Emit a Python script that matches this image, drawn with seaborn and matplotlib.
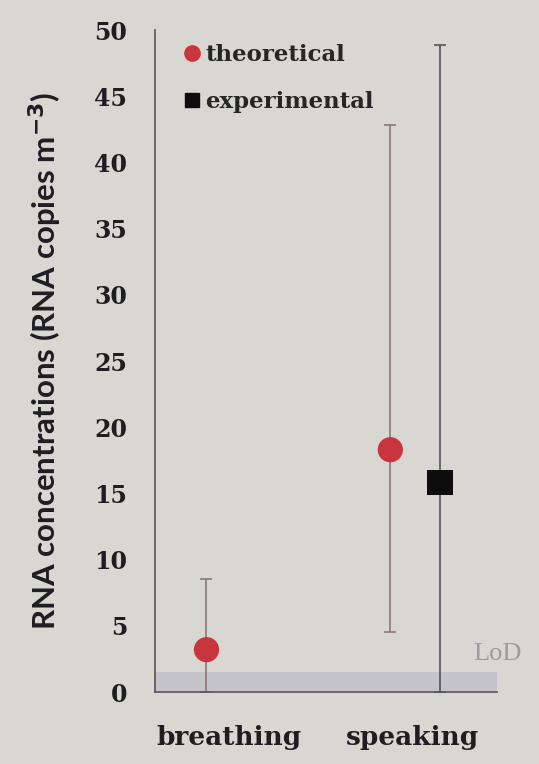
import numpy as np
import pandas as pd
import matplotlib
matplotlib.use("Agg")
import matplotlib.pyplot as plt
import seaborn as sns
from matplotlib.lines import Line2D

# values
categories = ["breathing", "speaking"]
series = ["theoretical", "theoretical", "experimental"]
cat_of_point = ["breathing", "speaking", "speaking"]
values = [3.2, 18.3, 15.8]
err_low = [0.0, 4.5, 0.0]
err_high = [8.5, 42.8, 48.9]
yticks = [0, 5, 10, 15, 20, 25, 30, 35, 40, 45, 50]
lod = 1.5

bg = "#d9d7d2"
red = "#c8363d"
serif = "DejaVu Serif"
sns.set_theme(style="white", rc={"axes.facecolor": bg, "figure.facecolor": bg})

df = pd.DataFrame({"category": cat_of_point, "source": series, "value": values,
                   "lo": err_low, "hi": err_high})
offsets = {"theoretical": -0.12, "experimental": 0.15}
df["xpos"] = [categories.index(c) + offsets[s] for c, s in zip(df["category"], df["source"])]

fig = plt.figure(figsize=(5.39, 7.64), dpi=100)
ax = fig.add_axes([0.2876, 0.0942, 0.922 - 0.2876, 0.9607 - 0.0942])

# LoD band
ax.axhspan(0, lod, color="#c5c4cb", zorder=0, lw=0)
ax.text(1.33, 2.9, "LoD", color="#9c9b9f", fontsize=19, family="Liberation Serif",
        ha="left", va="center", clip_on=False)

# error bars
for _, r in df.iterrows():
    col = "#8a6d72" if r["source"] == "theoretical" else "#4a4a55"
    ax.errorbar(r["xpos"], r["value"],
                yerr=[[r["value"] - r["lo"]], [r["hi"] - r["value"]]],
                fmt="none", ecolor=col, elinewidth=1.1, capsize=4, capthick=1.1, zorder=2)

sns.scatterplot(data=df, x="xpos", y="value", hue="source", style="source",
                palette={"theoretical": red, "experimental": "#0d0d0d"},
                markers={"theoretical": "o", "experimental": "s"},
                s=330, edgecolor="none", ax=ax, zorder=3, legend=False)

ax.set_xlim(-0.4, 1.46)
ax.set_ylim(0, 50)
ax.set_yticks(yticks)
ax.set_xticks(range(len(categories)))
ax.set_xticklabels(categories)
ax.tick_params(axis="y", length=0, pad=20, labelsize=17)
ax.tick_params(axis="x", length=0, pad=24, labelsize=19)
for lab in ax.get_yticklabels() + ax.get_xticklabels():
    lab.set_fontfamily(serif)
    lab.set_fontweight("bold")
    lab.set_color("#1e1e22")
ax.set_xlabel("")
ax.set_ylabel("RNA concentrations (RNA copies m$^{\\mathbf{-3}}$)", fontsize=22.5,
              fontweight="bold", family="Lato", color="#1e1e22", labelpad=22)

for side in ["top", "right"]:
    ax.spines[side].set_visible(False)
for side in ["left", "bottom"]:
    ax.spines[side].set_color("#55555c")
    ax.spines[side].set_linewidth(1.2)

handles = [Line2D([], [], marker="o", color=red, ls="none", markersize=11),
           Line2D([], [], marker="s", color="#0d0d0d", ls="none", markersize=10)]
ax.legend(handles, ["theoretical", "experimental"], loc="upper left",
          bbox_to_anchor=(0.02, 1.01), frameon=False, handletextpad=0.2,
          handlelength=0.8, labelspacing=1.1,
          prop={"family": serif, "weight": "bold", "size": 16.5})

fig.savefig("out.png", dpi=100, facecolor=bg)
